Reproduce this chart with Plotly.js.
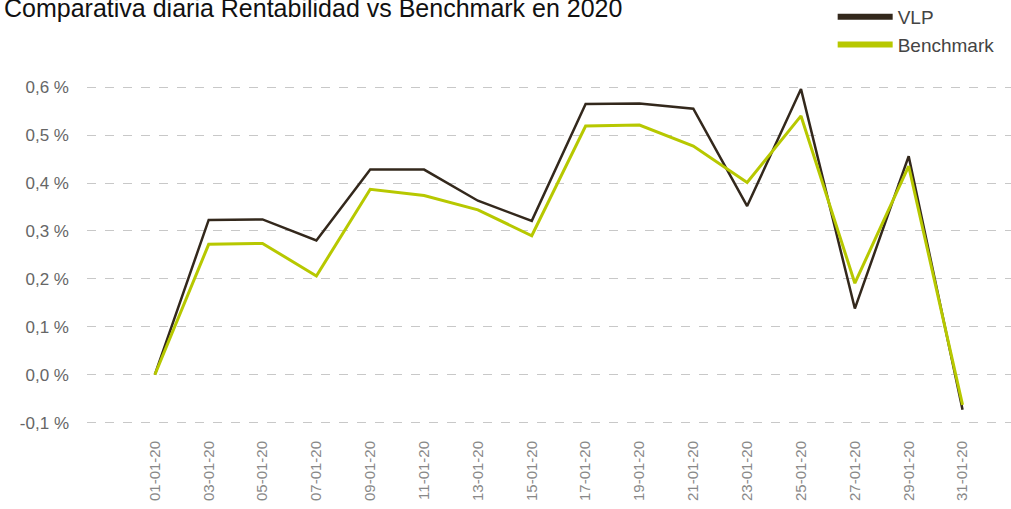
<!DOCTYPE html>
<html>
<head>
<meta charset="utf-8">
<script src="https://cdn.plot.ly/plotly-3.0.1.min.js"></script>
<style>html,body{margin:0;padding:0;background:#fff;}#chart{width:1011px;height:509px;}</style>
</head>
<body>
<div id="chart"></div>
<script>
const categories = ["01-01-20","03-01-20","05-01-20","07-01-20","09-01-20","11-01-20","13-01-20","15-01-20","17-01-20","19-01-20","21-01-20","23-01-20","25-01-20","27-01-20","29-01-20","31-01-20"];
const vlp = [0, 0.323, 0.324, 0.280, 0.428, 0.428, 0.363, 0.321, 0.565, 0.566, 0.555, 0.352, 0.596, 0.138, 0.456, -0.073];
const benchmark = [0, 0.272, 0.274, 0.206, 0.387, 0.374, 0.344, 0.290, 0.519, 0.521, 0.477, 0.401, 0.540, 0.191, 0.435, -0.063];
const yTickVals = [-0.1, 0, 0.1, 0.2, 0.3, 0.4, 0.5, 0.6];
const yTickText = ["-0,1 %", "0,0 %", "0,1 %", "0,2 %", "0,3 %", "0,4 %", "0,5 %", "0,6 %"];
const seriesNames = ["VLP", "Benchmark"];

const cVLP = "#33281c", cBench = "#b7c800";
const traces = [
  {x: categories, y: vlp, type: "scatter", mode: "lines", name: seriesNames[0], line: {color: cVLP, width: 2.5}, showlegend: false},
  {x: categories, y: benchmark, type: "scatter", mode: "lines", name: seriesNames[1], line: {color: cBench, width: 3}, showlegend: false},
  {x: [null], y: [null], type: "scatter", mode: "lines", name: seriesNames[0], line: {color: cVLP, width: 6}},
  {x: [null], y: [null], type: "scatter", mode: "lines", name: seriesNames[1], line: {color: cBench, width: 6}}
];
const layout = {
  width: 1011, height: 509,
  margin: {l: 87, r: 0, t: 68, b: 72, autoexpand: false},
  paper_bgcolor: "#fff", plot_bgcolor: "#fff",
  font: {family: "Liberation Sans Narrow, Liberation Sans, sans-serif", color: "#666"},
  title: {text: "Comparativa diaria Rentabilidad vs Benchmark en 2020", x: 0.004, xanchor: "left", xref: "container", y: 0.983, yanchor: "middle", yref: "container", font: {size: 25, color: "#111", family: "Liberation Sans Narrow, Liberation Sans, sans-serif"}},
  xaxis: {type: "category", range: [-1.26, 15.9], showgrid: false, zeroline: false, showline: false, ticks: "", tickangle: -90, tickfont: {size: 15, color: "#888"}},
  yaxis: {range: [-0.13, 0.64], tickvals: yTickVals, ticktext: yTickText, showgrid: true, gridcolor: "#c8c8c8", griddash: "dash", gridwidth: 1, zeroline: false, showline: false, ticks: "", ticklabelstandoff: 17, tickfont: {size: 17, color: "#666"}},
  legend: {x: 0.807, xanchor: "left", y: 1.19, yanchor: "top", font: {size: 19, color: "#444"}, tracegroupgap: 0, itemwidth: 55, bgcolor: "rgba(0,0,0,0)"},
  showlegend: true
};
Plotly.newPlot("chart", traces, layout, {displayModeBar: false, staticPlot: true});
</script>
</body>
</html>
